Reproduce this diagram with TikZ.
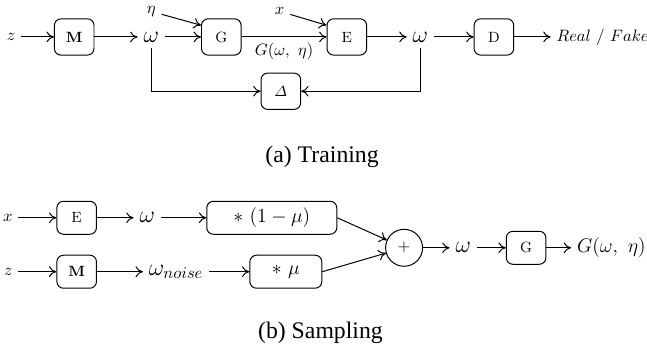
\documentclass[tikz,border=0pt]{standalone}
\usepackage{amsmath}
\usepackage{fontspec}
\newfontfamily\captionfont{Liberation Serif}
\usetikzlibrary{positioning,shapes,arrows.meta}

\begin{document}
\begin{tikzpicture}[
	node distance=1cm and 1cm,
	semithick,
	>={To[length=4.5pt,width=6.5pt]},
	blocknode/.style={draw,rounded corners=4pt,minimum width=24pt,minimum height=22pt,font=\small},
	bignode/.style={font=\Large}
	]
	\useasboundingbox (-6.7pt,22.4pt) rectangle (385.5pt,-189.7pt);
	\node (z) at (0,0) {$z$};
	\node[blocknode,right=19.8pt of z] (mapping) {\textbf{M}};
	\node[bignode,right=26.1pt of mapping] (omega) {$\omega$};
	\node[blocknode,right=21.9pt of omega] (generator) {G};
	\node[blocknode,right=51.5pt of generator] (encoder) {E};
	\node[bignode,right=24pt of encoder] (omegaenc) {$\omega$};
	\node[blocknode,right=24pt of omegaenc] (discriminator) {D};
	\node[right=22.1pt of discriminator] (realfake) {$Real~/~Fake$};
	\node[above=2pt of omega] (eta) {$\eta$};
	\node[above left=-1.5pt and 22pt of encoder] (x) {$x$};
	\node[blocknode,below right=10.3pt and 11.5pt of generator] (delta) {$\varDelta$};
	\path [->]
	(z) edge (mapping)
	(mapping) edge (omega)
	(omega) edge (generator)
	(eta) edge (generator.150)
	(generator) edge node[below] {$G(\omega,~\eta)$} (encoder)
	(x) edge (encoder.150)
	(encoder) edge (omegaenc)
	(omegaenc) edge (discriminator)
	(discriminator) edge (realfake);
	\draw[->] (omega) |- (delta);
	\draw[->] (omegaenc) |- (delta);
	\node[below=18.5pt of delta,xshift=25pt,font=\captionfont\Large] (training) {(a) Training};

	\node[blocknode,minimum height=20pt,below=88pt of mapping,xshift=1.5pt] (encoders) {E};
	\node[left=23pt of encoders] (xs) {$x$};
	\node[bignode,right=22.2pt of encoders] (omegas) {$\omega$};
	\node[blocknode,minimum height=20pt,minimum width=78.8pt,font=\large,right=27.5pt of omegas] (scaleone) {$*~(1-\mu)$};
	\node[blocknode,minimum height=20pt,below=12.1pt of encoders] (mappings) {\textbf{M}};
	\node[left=23pt of mappings] (zs) {$z$};
	\node[bignode,right=27.9pt of mappings] (omeganoise) {$\omega_{noise}$};
	\node[blocknode,minimum height=20pt,minimum width=43.6pt,font=\large,right=24.3pt of omeganoise] (scalemu) {$*~\mu$};
	\node[draw,circle,minimum size=22.4pt,right=29pt of scaleone,yshift=-18.2pt] (plus) {$+$};
	\node[bignode,right=16.1pt of plus] (omegasum) {$\omega$};
	\node[blocknode,minimum height=20pt,right=17.5pt of omegasum] (generators) {G};
	\node[font=\large,right=15pt of generators] (output) {$G(\omega,~\eta)$};
	\path [->]
	(xs) edge (encoders)
	(encoders) edge (omegas)
	(omegas) edge (scaleone)
	(zs) edge (mappings)
	(mappings) edge (omeganoise)
	(omeganoise) edge (scalemu)
	(scaleone.east) edge (plus)
	(scalemu.east) edge (plus)
	(plus) edge (omegasum)
	(omegasum) edge (generators)
	(generators) edge (output);
	\node[below=16.5pt of scalemu,xshift=21pt,font=\captionfont\Large] (sampling) {(b) Sampling};
\end{tikzpicture}
\end{document}
